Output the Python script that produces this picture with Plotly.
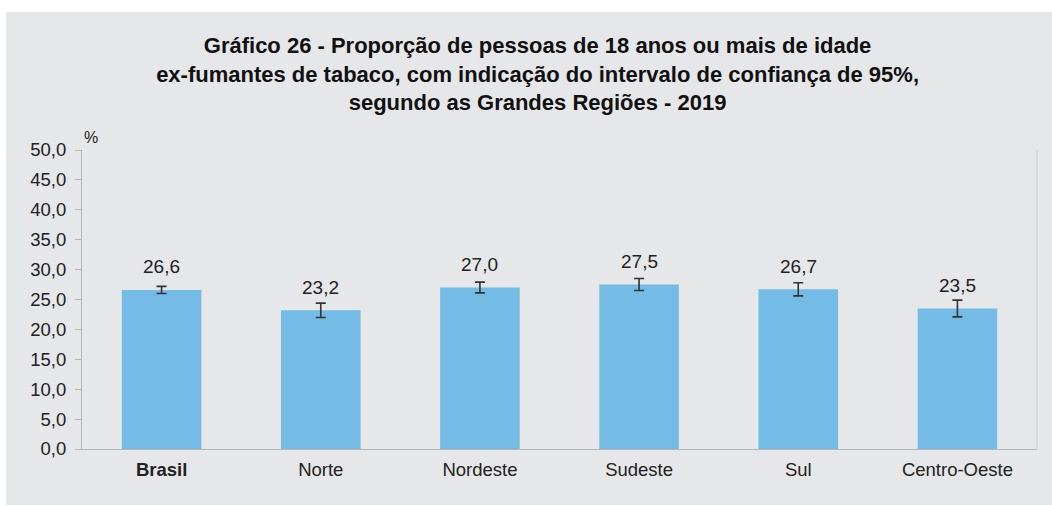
import plotly.graph_objects as go

categories = ["Brasil", "Norte", "Nordeste", "Sudeste", "Sul", "Centro-Oeste"]
tick_labels = ["<b>Brasil</b>", "Norte", "Nordeste", "Sudeste", "Sul", "Centro-Oeste"]
values = [26.6, 23.2, 27.0, 27.5, 26.7, 23.5]
ci_half = [0.6, 1.2, 0.9, 1.0, 1.1, 1.4]
y_ticks = [0, 5, 10, 15, 20, 25, 30, 35, 40, 45, 50]

W, H = 1052, 506
ml, mr, mt, mb = 82, 15, 150, 57
pw = W - ml - mr
ph = H - mt - mb

FONT = "Liberation Sans, Arial, sans-serif"

fig = go.Figure()
fig.add_trace(go.Bar(
    x=categories, y=values,
    marker=dict(color="#74bce6", line=dict(width=0)),
    error_y=dict(type="data", array=ci_half, visible=True,
                 color="#333333", thickness=1.6, width=5),
    hoverinfo="skip",
))

for c, v in zip(categories, values):
    fig.add_annotation(x=c, y=v, text=f"{v:.1f}".replace(".", ","),
                       showarrow=False, yshift=23, yanchor="middle",
                       font=dict(size=19, color="#222222", family=FONT))

fig.add_annotation(x=0, y=1, xref="paper", yref="paper", text="%",
                   showarrow=False, xanchor="left", yanchor="bottom",
                   xshift=0, yshift=2,
                   font=dict(size=16, color="#222222", family=FONT))

title = ("<b>Gráfico 26 - Proporção de pessoas de 18 anos ou mais de idade<br>"
         "ex-fumantes de tabaco, com indicação do intervalo de confiança de 95%,<br>"
         "segundo as Grandes Regiões - 2019</b>")

# grey background panel
fig.add_shape(type="rect", xref="paper", yref="paper",
              x0=(6 - ml) / pw, x1=(W - ml) / pw + 0.01,
              y0=-(505 - mt - ph) / ph, y1=1 + (mt - 12) / ph,
              fillcolor="#e6e7e8", line=dict(width=0), layer="below")
fig.add_shape(type="line", xref="paper", yref="paper", x0=1, x1=1, y0=0, y1=1,
              line=dict(color="#c8c8c8", width=1))

fig.update_layout(
    width=W, height=H,
    margin=dict(l=ml, r=mr, t=mt, b=mb),
    paper_bgcolor="white",
    plot_bgcolor="white",
    bargap=0.5,
    showlegend=False,
    title=dict(text=title, x=0.511, xanchor="center", y=1 - 53 / H, yanchor="middle",
               font=dict(size=22, color="#111111", family=FONT)),
    font=dict(family=FONT, color="#222222"),
    xaxis=dict(tickmode="array", tickvals=categories, ticktext=tick_labels,
               tickfont=dict(size=18.5, color="#222222"),
               ticklabelstandoff=4,
               showline=True, linecolor="#b5b5b5", linewidth=1,
               ticks="", showgrid=False, fixedrange=True),
    yaxis=dict(range=[0, 50], tickmode="array", tickvals=y_ticks,
               ticktext=[f"{t:.1f}".replace(".", ",") for t in y_ticks],
               tickfont=dict(size=18.5, color="#222222"),
               ticklabelstandoff=5,
               showline=True, linecolor="#b5b5b5", linewidth=1,
               ticks="outside", ticklen=6, tickcolor="#b5b5b5",
               showgrid=False, zeroline=False, fixedrange=True),
)

fig.write_html("out.html", config={"displayModeBar": False},
               post_script="document.body.style.margin='0';document.body.style.padding='0';")
